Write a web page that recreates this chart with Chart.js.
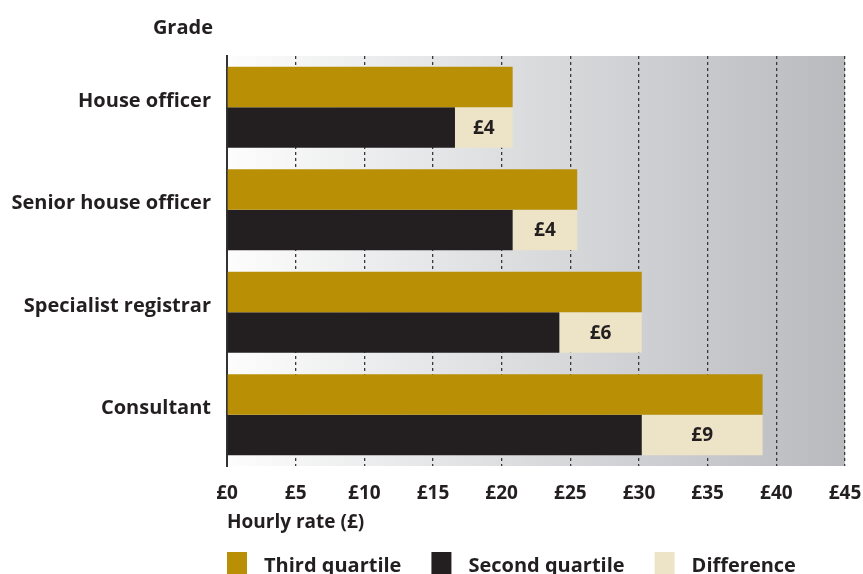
<!DOCTYPE html>
<html>
<head>
<meta charset="utf-8">
<script src="https://cdn.jsdelivr.net/npm/chart.js@4"></script>
<style>
  html, body { margin: 0; padding: 0; background: #fff; overflow: hidden; }
  #wrap { width: 863px; height: 574px; position: relative; }
</style>
</head>
<body>
<div id="wrap"><canvas id="gradeChart"></canvas></div>
<script>
// values (hourly rate, £)
const grades = ["House officer", "Senior house officer", "Specialist registrar", "Consultant"];
const thirdQuartile = [20.8, 25.5, 30.2, 39.0];
const secondQuartile = [16.6, 20.8, 24.2, 30.2];
const difference = [4.2, 4.7, 6.0, 8.8];
const differenceLabels = ["£4", "£4", "£6", "£9"];
const xTicks = [0, 5, 10, 15, 20, 25, 30, 35, 40, 45];

const ink = "#231f20";
const font = "'Open Sans', 'Noto Sans', sans-serif";

// grey gradient behind the plot
const backdrop = {
  id: "backdrop",
  beforeDraw(chart) {
    const { ctx, chartArea: a } = chart;
    const g = ctx.createLinearGradient(a.left, 0, a.right, 0);
    g.addColorStop(0, "#fdfdfd");
    g.addColorStop(0.45, "#dddee0");
    g.addColorStop(1, "#b9babe");
    ctx.save();
    ctx.fillStyle = g;
    ctx.fillRect(a.left, a.top, a.right - a.left, a.bottom - a.top);
    ctx.restore();
  }
};

// "Grade" heading, difference labels and the legend
const extras = {
  id: "extras",
  afterDraw(chart) {
    const { ctx, chartArea: a } = chart;
    ctx.save();
    ctx.fillStyle = ink;
    ctx.font = "bold 20px " + font;
    ctx.textAlign = "right";
    ctx.textBaseline = "middle";
    ctx.fillText("Grade", a.left - 14, 28);

    // labels inside the difference bars
    const meta = chart.getDatasetMeta(2);
    ctx.textAlign = "center";
    ctx.font = "bold 19px " + font;
    meta.data.forEach((bar, i) => {
      const p = bar.getProps(["x", "y", "base"], true);
      ctx.fillText(differenceLabels[i], (p.x + p.base) / 2, p.y + 1);
    });

    // legend along the bottom
    let x = a.left;
    const y = 564;
    ctx.textAlign = "left";
    ctx.font = "bold 20px " + font;
    chart.data.datasets.forEach(ds => {
      ctx.fillStyle = ds.backgroundColor;
      ctx.fillRect(x, y - 12, 20, 24);
      ctx.fillStyle = ink;
      ctx.fillText(ds.label, x + 37, y + 2);
      x += 37 + ctx.measureText(ds.label).width + 30;
    });
    ctx.restore();
  }
};

new Chart(document.getElementById("gradeChart"), {
  type: "bar",
  data: {
    labels: grades,
    datasets: [
      { label: "Third quartile", data: thirdQuartile, backgroundColor: "#b98f06", stack: "third" },
      { label: "Second quartile", data: secondQuartile, backgroundColor: "#231f20", stack: "second" },
      { label: "Difference", data: difference, backgroundColor: "#ede3c6", stack: "second" }
    ]
  },
  options: {
    indexAxis: "y",
    responsive: true,
    maintainAspectRatio: false,
    animation: false,
    categoryPercentage: 0.79,
    barPercentage: 1,
    layout: { padding: { top: 56, right: 18, bottom: 40, left: 0 } },
    plugins: {
      legend: { display: false },
      tooltip: { enabled: false }
    },
    scales: {
      x: {
        stacked: true,
        min: 0,
        max: 45,
        afterBuildTicks(scale) {
          scale.ticks = xTicks.map(v => ({ value: v }));
        },
        afterFit(scale) {
          scale.height = 68;
          scale.paddingLeft = 0;
          scale.paddingRight = 0;
        },
        grid: { color: "#3a3a3a", lineWidth: 1.3, drawTicks: false },
        border: { display: false, dash: [3, 3] },
        ticks: {
          padding: 16,
          color: ink,
          font: { family: font, size: 19, weight: "bold" },
          callback: v => "£" + v
        },
        title: {
          display: true,
          text: "Hourly rate (£)",
          align: "start",
          color: ink,
          padding: { top: 0, bottom: 0 },
          font: { family: font, size: 19, weight: "bold" }
        }
      },
      y: {
        afterFit(scale) { scale.width = 227; },
        grid: { display: false },
        border: { display: true, color: "#333", width: 2 },
        ticks: {
          padding: 8,
          labelOffset: -6,
          color: ink,
          font: { family: font, size: 20, weight: "bold" }
        }
      }
    }
  },
  plugins: [backdrop, extras]
});
</script>
</body>
</html>
